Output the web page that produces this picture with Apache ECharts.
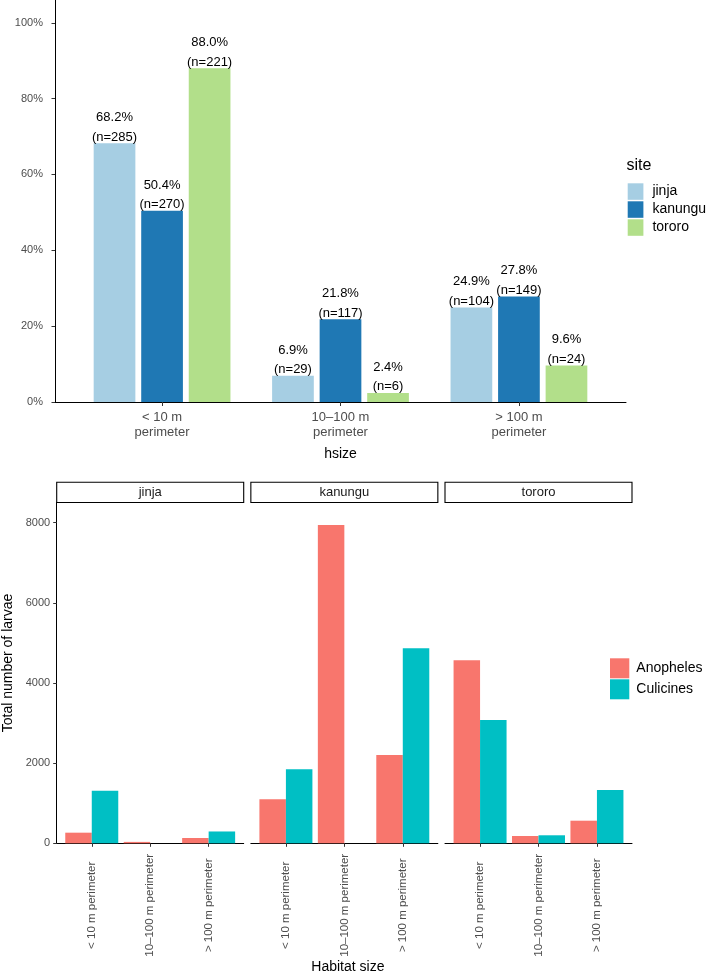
<!DOCTYPE html>
<html>
<head>
<meta charset="utf-8">
<script src="https://cdn.jsdelivr.net/npm/echarts@6/dist/echarts.min.js"></script>
<style>
html,body{margin:0;padding:0;background:#fff;}
#chart{width:710px;height:977px;}
</style>
</head>
<body>
<div id="chart"></div>
<script>
// ---------- DATA ----------
const sites = ['jinja', 'kanungu', 'tororo'];
const topCategories = ['< 10 m\nperimeter', '10–100 m\nperimeter', '> 100 m\nperimeter'];
const pctJinja = [68.2, 6.9, 24.9];
const pctKanungu = [50.4, 21.8, 27.8];
const pctTororo = [88.0, 2.4, 9.6];
const nJinja = [285, 29, 104];
const nKanungu = [270, 117, 149];
const nTororo = [221, 6, 24];
const topTicks = [0, 20, 40, 60, 80, 100];

const habitatCategories = ['< 10 m perimeter', '10–100 m perimeter', '> 100 m perimeter'];
const anophelesJinja = [265, 35, 132];
const culicinesJinja = [1312, 0, 295];
const anophelesKanungu = [1098, 7942, 2203];
const culicinesKanungu = [1850, 0, 4865];
const anophelesTororo = [4570, 182, 564];
const culicinesTororo = [3076, 200, 1330];
const bottomTicks = [0, 2000, 4000, 6000, 8000];

// ---------- STYLE / LAYOUT ----------
const FONT = "'Liberation Sans', Arial, Helvetica, sans-serif";
const siteColors = ['#A6CEE3', '#1F78B4', '#B2DF8A'];
const taxonColors = ['#F8766D', '#00BFC4'];

const topPct = [pctJinja, pctKanungu, pctTororo];
const topN = [nJinja, nKanungu, nTororo];
const anoph = [anophelesJinja, anophelesKanungu, anophelesTororo];
const culic = [culicinesJinja, culicinesKanungu, culicinesTororo];

const topLeft = 55, topWidth = 571, topTop = 0, topHeight = 402;
const topBand = topWidth / 3.2;
const panelLefts = [56.7, 250.85, 445.0];
const panelWidth = 187;
const panelTop = 502.3, panelHeight = 341;
const panelBand = panelWidth / 3.2;

const grids = [];
const xAxes = [];
const yAxes = [];
const series = [];

// top frame grid
grids.push({left: topLeft, top: topTop, width: topWidth, height: topHeight, outerBoundsMode: 'none'});
// top bar grid
grids.push({left: topLeft + 0.1 * topBand, top: topTop, width: 3 * topBand, height: topHeight, outerBoundsMode: 'none'});

xAxes.push({
  gridIndex: 0, type: 'value', min: 0.4, max: 3.6,
  axisLine: {show: true, lineStyle: {color: '#000', width: 1}},
  axisTick: {show: false}, axisLabel: {show: false}, splitLine: {show: false},
  name: 'hsize', nameLocation: 'middle', nameGap: 45,
  nameTextStyle: {fontSize: 14, color: '#000', fontFamily: FONT}
});
xAxes.push({
  gridIndex: 1, type: 'category', data: topCategories,
  axisLine: {show: false},
  axisTick: {show: true, alignWithLabel: true, length: 4, lineStyle: {color: '#333', width: 1}},
  axisLabel: {interval: 0, fontSize: 13, color: '#4D4D4D', lineHeight: 15, margin: 8, fontFamily: FONT},
  splitLine: {show: false}
});
yAxes.push({
  gridIndex: 0, type: 'value', min: 0, max: 106,
  axisLine: {show: true, lineStyle: {color: '#000', width: 1}},
  axisTick: {show: true, length: 3.5, lineStyle: {color: '#333'}, customValues: topTicks},
  axisLabel: {customValues: topTicks, formatter: '{value}%', fontSize: 11, color: '#4D4D4D', margin: 12, fontFamily: FONT},
  splitLine: {show: false}
});
yAxes.push({gridIndex: 1, type: 'value', min: 0, max: 106, show: false, splitLine: {show: false}});

sites.forEach((s, i) => {
  series.push({
    type: 'bar', name: s, xAxisIndex: 1, yAxisIndex: 1,
    data: topPct[i].map((v, j) => ({value: v, n: topN[i][j]})),
    barWidth: 41.7, barGap: '14%',
    itemStyle: {color: siteColors[i]},
    label: {
      show: true, position: 'top', distance: -3.5,
      formatter: p => p.value.toFixed(1) + '%\n(n=' + p.data.n + ')',
      fontSize: 13, lineHeight: 19.5, color: '#000', fontFamily: FONT
    },
    emphasis: {disabled: true}
  });
});

// bottom panels
sites.forEach((s, p) => {
  const L = panelLefts[p];
  const gFrame = grids.length;
  grids.push({left: L, top: panelTop, width: panelWidth, height: panelHeight, outerBoundsMode: 'none'});
  const gBar = grids.length;
  grids.push({left: L + 0.1 * panelBand, top: panelTop, width: 3 * panelBand, height: panelHeight, outerBoundsMode: 'none'});

  const frameX = {
    gridIndex: gFrame, type: 'value', min: 0.4, max: 3.6,
    axisLine: {show: true, lineStyle: {color: '#000', width: 1}},
    axisTick: {show: false}, axisLabel: {show: false}, splitLine: {show: false}
  };
  if (p === 1) {
    frameX.name = 'Habitat size';
    frameX.nameLocation = 'middle';
    frameX.nameGap = 117;
    frameX.nameTextStyle = {fontSize: 14, color: '#000', fontFamily: FONT, padding: [0, 0, 0, 7]};
  }
  xAxes.push(frameX);
  const xBarIdx = xAxes.length;
  xAxes.push({
    gridIndex: gBar, type: 'category', data: habitatCategories,
    axisLine: {show: false},
    axisTick: {show: true, alignWithLabel: true, length: 3.5, lineStyle: {color: '#333', width: 1}},
    axisLabel: {interval: 0, rotate: 90, align: 'center', verticalAlign: 'middle', margin: 62,
      fontSize: 11.5, color: '#4D4D4D', fontFamily: FONT},
    splitLine: {show: false}
  });
  if (p === 0) {
    yAxes.push({
      gridIndex: gFrame, type: 'value', min: 0, max: 8508,
      axisLine: {show: true, lineStyle: {color: '#000', width: 1}},
      axisTick: {show: true, length: 3.5, lineStyle: {color: '#333'}, customValues: bottomTicks},
      axisLabel: {customValues: bottomTicks, formatter: v => String(v), fontSize: 11, color: '#4D4D4D', margin: 6.5, fontFamily: FONT},
      splitLine: {show: false}
    });
  } else {
    yAxes.push({gridIndex: gFrame, type: 'value', min: 0, max: 8508, show: false, splitLine: {show: false}});
  }
  const yBarIdx = yAxes.length;
  yAxes.push({gridIndex: gBar, type: 'value', min: 0, max: 8508, show: false, splitLine: {show: false}});

  series.push({
    type: 'bar', name: 'Anopheles', xAxisIndex: xBarIdx, yAxisIndex: yBarIdx,
    data: anoph[p], barWidth: 26.5, barGap: '0%',
    itemStyle: {color: taxonColors[0]}, emphasis: {disabled: true}
  });
  series.push({
    type: 'bar', name: 'Culicines', xAxisIndex: xBarIdx, yAxisIndex: yBarIdx,
    data: culic[p], barWidth: 26.5, barGap: '0%',
    itemStyle: {color: taxonColors[1]}, emphasis: {disabled: true}
  });
});

// strips + y title (decorations)
const graphics = [];
sites.forEach((s, p) => {
  const L = panelLefts[p];
  graphics.push({
    type: 'rect', silent: true,
    shape: {x: L, y: 482.3, width: panelWidth, height: 20.2},
    style: {fill: '#fff', stroke: '#000', lineWidth: 1.1}
  });
  graphics.push({
    type: 'text', silent: true, x: L + panelWidth / 2, y: 492.5,
    style: {text: s, fontSize: 13, fill: '#1A1A1A', fontFamily: FONT, align: 'center', verticalAlign: 'middle'}
  });
});
graphics.push({
  type: 'text', silent: true, x: 8.5, y: 663, rotation: Math.PI / 2,
  style: {text: 'Total number of larvae', fontSize: 14, fill: '#000', fontFamily: FONT, align: 'center', verticalAlign: 'middle'}
});

const chart = echarts.init(document.getElementById('chart'), null, {renderer: 'canvas'});
chart.setOption({
  animation: false,
  backgroundColor: '#fff',
  textStyle: {fontFamily: FONT},
  title: {text: 'site', left: 626.5, top: 158, padding: 0,
    textStyle: {fontSize: 16, fontWeight: 'normal', color: '#000', fontFamily: FONT}},
  legend: [
    {
      data: sites, orient: 'vertical', left: 627.7, top: 183.3, padding: 0,
      itemWidth: 15.7, itemHeight: 16.5, itemGap: 1.5, icon: 'rect', selectedMode: false,
      textStyle: {fontSize: 14, color: '#000', fontFamily: FONT, padding: [0, 0, 0, 4]}
    },
    {
      data: ['Anopheles', 'Culicines'], orient: 'vertical', left: 610, top: 658.3, padding: 0,
      itemWidth: 19.3, itemHeight: 20, itemGap: 1, icon: 'rect', selectedMode: false,
      textStyle: {fontSize: 14, color: '#000', fontFamily: FONT, padding: [0, 0, 0, 2]}
    }
  ],
  grid: grids,
  xAxis: xAxes,
  yAxis: yAxes,
  series: series,
  graphic: graphics
});
</script>
</body>
</html>
